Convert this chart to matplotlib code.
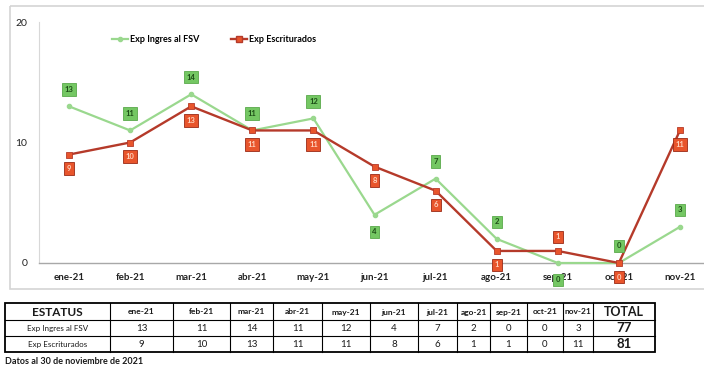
import matplotlib.pyplot as plt
from matplotlib.patches import Rectangle
from matplotlib.lines import Line2D

plt.rcParams["font.family"] = ["Lato", "DejaVu Sans"]

MONTHS = ["ene-21", "feb-21", "mar-21", "abr-21", "may-21", "jun-21",
          "jul-21", "ago-21", "sep-21", "oct-21", "nov-21"]
INGRES = [13, 11, 14, 11, 12, 4, 7, 2, 0, 0, 3]
ESCRIT = [9, 10, 13, 11, 11, 8, 6, 1, 1, 0, 11]
SERIES_NAMES = ["Exp Ingres al FSV", "Exp Escriturados"]

# label placement per point: +1 above the marker, -1 below
INGRES_SIDE = [1, 1, 1, 1, 1, -1, 1, 1, -1, 1, 1]
ESCRIT_SIDE = [-1, -1, -1, -1, -1, -1, -1, -1, 1, -1, -1]

W, H = 704, 366
GREEN_LINE = "#9ad88e"
GREEN_BOX = "#74c763"
RED_LINE = "#b53a2a"
RED_BOX = "#e8552c"

fig = plt.figure(figsize=(W / 100, H / 100), dpi=100)
fig.patch.set_facecolor("white")

# overlay in pixel coordinates for frame and table
ov = fig.add_axes([0, 0, 1, 1])
ov.set_xlim(0, W)
ov.set_ylim(H, 0)
ov.axis("off")
ov.add_patch(Rectangle((10, 6), 700, 283, fill=False, ec="#d4d4d4", lw=1.2))

# chart area
left, right, top, bottom = 38.5, 710.5, 22, 263
ax = fig.add_axes([left / W, 1 - bottom / H, (right - left) / W, (bottom - top) / H])
ax.set_facecolor("none")
x = list(range(len(MONTHS)))
ax.plot(x, INGRES, color=GREEN_LINE, lw=1.6, marker="o", ms=3,
        mfc=GREEN_LINE, mec=GREEN_LINE, clip_on=False, zorder=3)
ax.plot(x, ESCRIT, color=RED_LINE, lw=1.7, marker="s", ms=4.5,
        mfc=RED_BOX, mec=RED_LINE, mew=0.6, clip_on=False, zorder=4)

for xi, v, s in zip(x, INGRES, INGRES_SIDE):
    ax.annotate(str(v), (xi, v), xytext=(0, 17 * s), textcoords="offset pixels",
                ha="center", va="center", fontsize=5.5, fontweight="bold",
                color="#1d4d17", annotation_clip=False, zorder=5,
                bbox=dict(boxstyle="square,pad=0.35", fc=GREEN_BOX, ec="#5aa94b", lw=0.6))
for xi, v, s in zip(x, ESCRIT, ESCRIT_SIDE):
    ax.annotate(str(v), (xi, v), xytext=(0, 14 * s), textcoords="offset pixels",
                ha="center", va="center", fontsize=5.5, fontweight="bold",
                color="#ffd3bd", annotation_clip=False, zorder=5,
                bbox=dict(boxstyle="square,pad=0.35", fc=RED_BOX, ec="#9a2a16", lw=0.6))

ax.set_xlim(-0.5, len(MONTHS) - 0.5)
ax.set_ylim(0, 20)
ax.set_yticks([0, 10, 20])
ax.set_xticks(x)
ax.set_xticklabels(MONTHS, fontsize=7, fontweight="bold", color="#222222")
ax.tick_params(axis="y", labelsize=7.5, colors="#222222", length=0, pad=8)
ax.tick_params(axis="x", length=0, pad=7)
for sp in ["top", "right"]:
    ax.spines[sp].set_visible(False)
ax.spines["left"].set_color("#d8d8d8")
ax.spines["left"].set_linestyle((0, (2, 1)))
ax.spines["bottom"].set_color("#a8a8a8")
ax.spines["bottom"].set_linewidth(1.0)

handles = [
    Line2D([], [], color=GREEN_LINE, lw=1.6, marker="o", ms=3, mfc=GREEN_LINE, mec=GREEN_LINE),
    Line2D([], [], color=RED_LINE, lw=1.7, marker="s", ms=4.5, mfc=RED_BOX, mec=RED_LINE),
]
leg = fig.legend(handles, SERIES_NAMES, loc="center", ncol=2,
                 bbox_to_anchor=(214 / W, 1 - 40 / H), frameon=False,
                 prop=dict(size=6.5, weight="bold"), handlelength=1.7,
                 handletextpad=0.2, columnspacing=3.6)

# summary table
cols = [5, 110, 173, 230, 273, 322, 370, 418, 457, 490, 527, 563, 593, 655]
rows = [303, 320, 336, 352]
ov.add_patch(Rectangle((cols[0], rows[0]), cols[-1] - cols[0], rows[-1] - rows[0],
                       fill=False, ec="black", lw=1.3))
for c in cols[1:-1]:
    ov.plot([c, c], [rows[0], rows[-1]], color="black", lw=0.8)
for r in rows[1:-1]:
    ov.plot([cols[0], cols[-1]], [r, r], color="black", lw=0.8)


def cell(ci, ri, txt, **kw):
    ov.text((cols[ci] + cols[ci + 1]) / 2, (rows[ri] + rows[ri + 1]) / 2 + 0.5, txt,
            ha="center", va="center", color="#1a1a1a", **kw)


cell(0, 0, "ESTATUS", fontsize=8.5, fontweight="bold")
for i, m in enumerate(MONTHS):
    cell(i + 1, 0, m, fontsize=6, fontweight="bold")
cell(len(MONTHS) + 1, 0, "TOTAL", fontsize=9, fontweight="bold")
for ri, (name, vals) in enumerate(zip(SERIES_NAMES, [INGRES, ESCRIT]), start=1):
    cell(0, ri, name, fontsize=5.8)
    for i, v in enumerate(vals):
        cell(i + 1, ri, str(v), fontsize=7)
    cell(len(MONTHS) + 1, ri, str(sum(vals)), fontsize=9.5, fontweight="bold")

ov.text(5, 361, "Datos al 30 de noviembre de 2021", ha="left", va="center",
        fontsize=6.5, fontweight="bold", color="#1a1a1a")

fig.savefig("out.png", dpi=100, facecolor="white")
